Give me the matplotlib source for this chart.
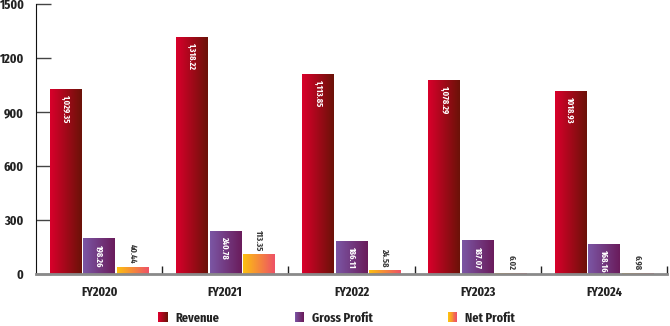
import numpy as np
import matplotlib
matplotlib.use("Agg")
import matplotlib.pyplot as plt
from matplotlib.colors import LinearSegmentedColormap
from matplotlib.patches import Rectangle
from matplotlib.legend_handler import HandlerBase

years = ["FY2020", "FY2021", "FY2022", "FY2023", "FY2024"]
revenue = [1029.35, 1318.22, 1113.85, 1078.29, 1018.93]
gross_profit = [198.26, 240.78, 186.11, 187.07, 168.16]
net_profit = [40.44, 113.35, 24.58, 6.02, 6.98]
rev_labels = ["1,029.35", "1,318.22", "1,113.85", "1,078.29", "1018.93"]
gp_labels = ["198.26", "240.78", "186.11", "187.07", "168.16"]
np_labels = ["40.44", "113.35", "24.58", "6.02", "6.98"]

# left -> right gradient colours
grads = {
    "Revenue": ("#d9002b", "#6b1208"),
    "Gross Profit": ("#7b56a4", "#6a1c5c"),
    "Net Profit": ("#fdc010", "#ee5266"),
}

plt.rcParams["font.family"] = ["Fira Sans Extra Condensed", "Fira Sans Condensed", "DejaVu Sans"]

fig = plt.figure(figsize=(6.7, 3.26), dpi=100)
ax = fig.add_axes([36 / 670, 52 / 326, 631 / 670, 270 / 326])

x = np.arange(len(years))
w = 0.25
step = 0.265
series = [("Revenue", revenue, rev_labels), ("Gross Profit", gross_profit, gp_labels),
          ("Net Profit", net_profit, np_labels)]
grad = np.linspace(0, 1, 64).reshape(1, -1)

for k, (name, vals, labs) in enumerate(series):
    cmap = LinearSegmentedColormap.from_list(name, grads[name])
    pos = x + (k - 1) * step
    bars = ax.bar(pos, vals, w, color="none", edgecolor="none")
    for b, v, lab in zip(bars, vals, labs):
        x0 = b.get_x()
        im = ax.imshow(grad, cmap=cmap, extent=[x0, x0 + w, 0, v], aspect="auto",
                       interpolation="bicubic", zorder=2)
        im.set_clip_path(b)
        cx = x0 + w / 2
        if k < 2:
            ax.annotate(lab, (cx, v), xytext=(0, -4), textcoords="offset points",
                        rotation=270, ha="center", va="top", color="white",
                        fontsize=6.5, fontweight="bold", zorder=3)
        else:
            ax.annotate(lab, (cx, v), xytext=(0, 2), textcoords="offset points",
                        rotation=270, ha="center", va="bottom", color="#3a3a3a",
                        fontsize=6.5, fontweight="bold", zorder=3)

ax.set_xlim(-0.5, len(years) - 0.5)
ax.set_ylim(0, 1500)
ax.set_yticks(np.arange(0, 1501, 300))
ax.tick_params(axis="y", direction="in", length=11, width=1, color="#444444",
               labelsize=9.5, pad=9)
for t in ax.get_yticklabels():
    t.set_fontweight("bold")
    t.set_color("#222222")
ax.set_xticks(x)
ax.set_xticklabels(years, fontsize=9.5, fontweight="bold", color="#222222")
ax.tick_params(axis="x", length=0, pad=9)
ax.set_xticks(np.arange(0.5, len(years), 1), minor=True)
ax.tick_params(axis="x", which="minor", direction="in", length=6, width=1, color="#222222")

for s in ["top", "right"]:
    ax.spines[s].set_visible(False)
ax.spines["left"].set_color("#111111")
ax.spines["bottom"].set_color("#8a8a8a")
ax.spines["bottom"].set_linewidth(2)
ax.spines["bottom"].set_zorder(4)


class GradHandler(HandlerBase):
    def create_artists(self, legend, orig, xd, yd, width, height, fontsize, trans):
        c0, c1 = orig.grad
        cmap = LinearSegmentedColormap.from_list("g", [c0, c1])
        n = 10
        side = height * 1.0
        out = []
        for i in range(n):
            r = Rectangle((xd + width - side + i * side / n, yd), side / n + 0.1, side,
                          facecolor=cmap(i / (n - 1)), edgecolor="none", transform=trans)
            out.append(r)
        return out


handles = []
for name in grads:
    p = Rectangle((0, 0), 1, 1)
    p.grad = grads[name]
    handles.append(p)
leg = fig.legend(handles, list(grads), handler_map={Rectangle: GradHandler()},
                 loc="center", bbox_to_anchor=(336 / 670, 8 / 326), ncol=3, frameon=False,
                 prop={"size": 9.5, "weight": "bold"}, handlelength=0.8, handletextpad=0.6,
                 columnspacing=5.6)
for t in leg.get_texts():
    t.set_color("#222222")

fig.savefig("out.png", dpi=100)
